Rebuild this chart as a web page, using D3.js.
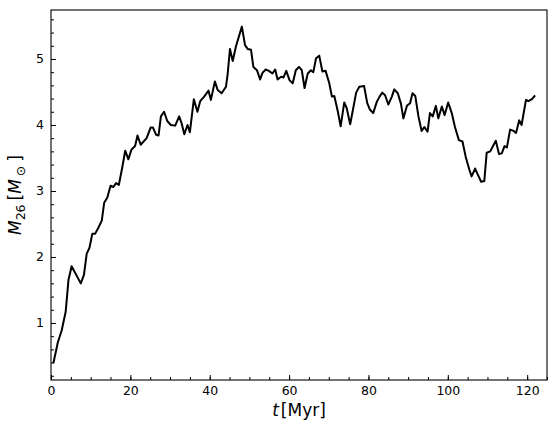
<!DOCTYPE html>
<meta charset="UTF-8">
<style>
body { margin: 0; background: #fff; }
.tick text { font: 12.5px "DejaVu Sans", sans-serif; fill: #000; }
.axlabel { font-family: "DejaVu Sans", sans-serif; fill: #000; }
</style>
<body>
<script src="https://cdn.jsdelivr.net/npm/d3@7"></script>
<script>

// time in Myr and mass M_26 in solar masses
var times = [0.6, 1.7, 2.7, 3.7, 4.4, 5.2, 7.5, 8.3, 9.0, 9.7, 10.4, 11.1, 11.9, 12.8, 13.4, 14.2,
  15.0, 15.7, 16.4, 17.1, 18.0, 18.7, 19.5, 20.3, 21.2, 21.8, 22.6, 24.1, 25.1, 25.7, 26.5, 27.1,
  27.7, 28.5, 29.3, 30.2, 31.3, 32.3, 32.9, 33.6, 34.4, 35.0, 36.0, 36.9, 37.6, 38.6, 39.7, 40.3,
  41.3, 42.0, 43.0, 44.1, 44.5, 45.1, 45.8, 46.6, 48.1, 48.9, 49.6, 50.4, 51.0, 51.9, 52.7, 53.3,
  54.1, 54.9, 55.8, 56.5, 57.1, 58.0, 58.6, 59.3, 60.1, 60.9, 61.7, 62.5, 63.2, 63.9, 64.7, 65.5,
  66.1, 66.8, 67.6, 68.4, 69.2, 70.1, 70.8, 71.4, 72.3, 73.0, 73.9, 74.5, 75.4, 76.0, 76.9, 77.7,
  78.9, 79.7, 80.4, 81.2, 82.1, 82.8, 83.5, 84.2, 85.0, 85.9, 86.5, 87.4, 88.2, 88.8, 89.7, 90.5,
  91.1, 91.8, 92.6, 93.4, 94.1, 94.9, 95.5, 96.2, 97.0, 97.6, 98.5, 99.2, 100.1, 101.0, 101.8,
  102.8, 103.7, 104.5, 105.4, 106.0, 106.9, 107.7, 108.4, 109.2, 109.8, 110.7, 111.3, 112.1,
  112.9, 113.6, 114.3, 114.9, 115.7, 116.6, 117.2, 118.0, 118.6, 119.7, 120.3, 121.2, 122.0];
var masses = [0.39, 0.70, 0.89, 1.17, 1.65, 1.86, 1.60, 1.73, 2.05, 2.14, 2.35, 2.35, 2.44, 2.55, 2.82, 2.90,
  3.08, 3.06, 3.12, 3.09, 3.37, 3.61, 3.48, 3.63, 3.68, 3.84, 3.70, 3.80, 3.96, 3.96, 3.85, 3.84,
  4.13, 4.20, 4.06, 4.00, 3.99, 4.13, 4.03, 3.86, 4.00, 3.89, 4.39, 4.20, 4.36, 4.43, 4.52, 4.38,
  4.66, 4.53, 4.48, 4.58, 4.76, 5.15, 4.97, 5.19, 5.49, 5.21, 5.15, 5.14, 4.88, 4.83, 4.69, 4.79,
  4.84, 4.82, 4.78, 4.84, 4.69, 4.73, 4.72, 4.82, 4.68, 4.63, 4.83, 4.88, 4.83, 4.56, 4.78, 4.83,
  4.80, 5.01, 5.05, 4.81, 4.82, 4.64, 4.43, 4.44, 4.20, 3.98, 4.34, 4.26, 4.01, 4.20, 4.49, 4.58,
  4.59, 4.33, 4.23, 4.18, 4.35, 4.43, 4.49, 4.45, 4.31, 4.43, 4.54, 4.48, 4.32, 4.10, 4.29, 4.33,
  4.48, 4.44, 4.13, 3.91, 3.97, 3.90, 4.18, 4.13, 4.29, 4.10, 4.28, 4.15, 4.34, 4.18, 3.97,
  3.77, 3.75, 3.52, 3.33, 3.22, 3.34, 3.23, 3.14, 3.15, 3.58, 3.60, 3.67, 3.76,
  3.56, 3.57, 3.68, 3.66, 3.93, 3.91, 3.88, 4.07, 4.00, 4.38, 4.36, 4.39, 4.45];

var xTicks = [0, 20, 40, 60, 80, 100, 120];
var yTicks = [1, 2, 3, 4, 5];

var margin = {top: 10, right: 9, bottom: 57, left: 51},
    width = 556 - margin.left - margin.right,
    height = 437 - margin.top - margin.bottom;

var svg = d3.select("body").append("svg")
    .attr("width", 556)
    .attr("height", 437)
  .append("g")
    .attr("transform", "translate(" + margin.left + "," + margin.top + ")");

var x = d3.scaleLinear().domain([0, 125]).range([0, width]);
var y = d3.scaleLinear().domain([0.136, 5.742]).range([height, 0]);

// minor ticks (inward)
svg.append("g")
    .attr("transform", "translate(0," + height + ")")
    .call(d3.axisBottom(x).tickValues(d3.range(0, 126, 5)).tickSize(-3).tickFormat(""))
    .call(function(g) { g.select(".domain").remove(); });
svg.append("g")
    .call(d3.axisLeft(y).tickValues(d3.range(0.2, 5.75, 0.2)).tickSize(-3).tickFormat(""))
    .call(function(g) { g.select(".domain").remove(); });

// major ticks
svg.append("g")
    .attr("transform", "translate(0," + height + ")")
    .call(d3.axisBottom(x).tickValues(xTicks).tickSize(-5).tickPadding(6).tickFormat(d3.format("d")))
    .call(function(g) { g.select(".domain").remove(); });
svg.append("g")
    .call(d3.axisLeft(y).tickValues(yTicks).tickSize(-5).tickPadding(7).tickFormat(d3.format("d")))
    .call(function(g) { g.select(".domain").remove(); });

svg.selectAll(".tick line").attr("stroke", "#000").attr("stroke-width", 1);

var line = d3.line()
    .x(function(d, i) { return x(times[i]); })
    .y(function(d) { return y(d); });

svg.append("path")
    .datum(masses)
    .attr("fill", "none")
    .attr("stroke", "#000")
    .attr("stroke-width", 2)
    .attr("stroke-linejoin", "round")
    .attr("d", line);

// frame
svg.append("rect")
    .attr("x", 0).attr("y", 0)
    .attr("width", width).attr("height", height)
    .attr("fill", "none")
    .attr("stroke", "#000")
    .attr("stroke-width", 1.1);

// x label: t [Myr]
var xl = svg.append("text")
    .attr("class", "axlabel")
    .attr("x", width / 2)
    .attr("y", height + 36)
    .attr("text-anchor", "middle")
    .style("font-size", "17px");
xl.append("tspan").style("font-style", "italic").text("t");
xl.append("tspan").attr("dx", 2).text("[Myr]");

// y label: M_26 [M_sun]
var yl = svg.append("text")
    .attr("class", "axlabel")
    .attr("transform", "translate(" + (-30) + "," + (height / 2) + ") rotate(-90)")
    .attr("text-anchor", "middle")
    .style("font-size", "17px");
yl.append("tspan").style("font-style", "italic").text("M");
yl.append("tspan").attr("dy", 4).style("font-size", "12.5px").text("26");
yl.append("tspan").attr("dy", -4).attr("dx", 4).text("[");
yl.append("tspan").style("font-style", "italic").text("M");
yl.append("tspan").attr("dy", 4).attr("dx", 3).style("font-size", "12.5px").text("\u2299");
yl.append("tspan").attr("dy", -4).attr("dx", 4).text("]");

</script>
</body>
